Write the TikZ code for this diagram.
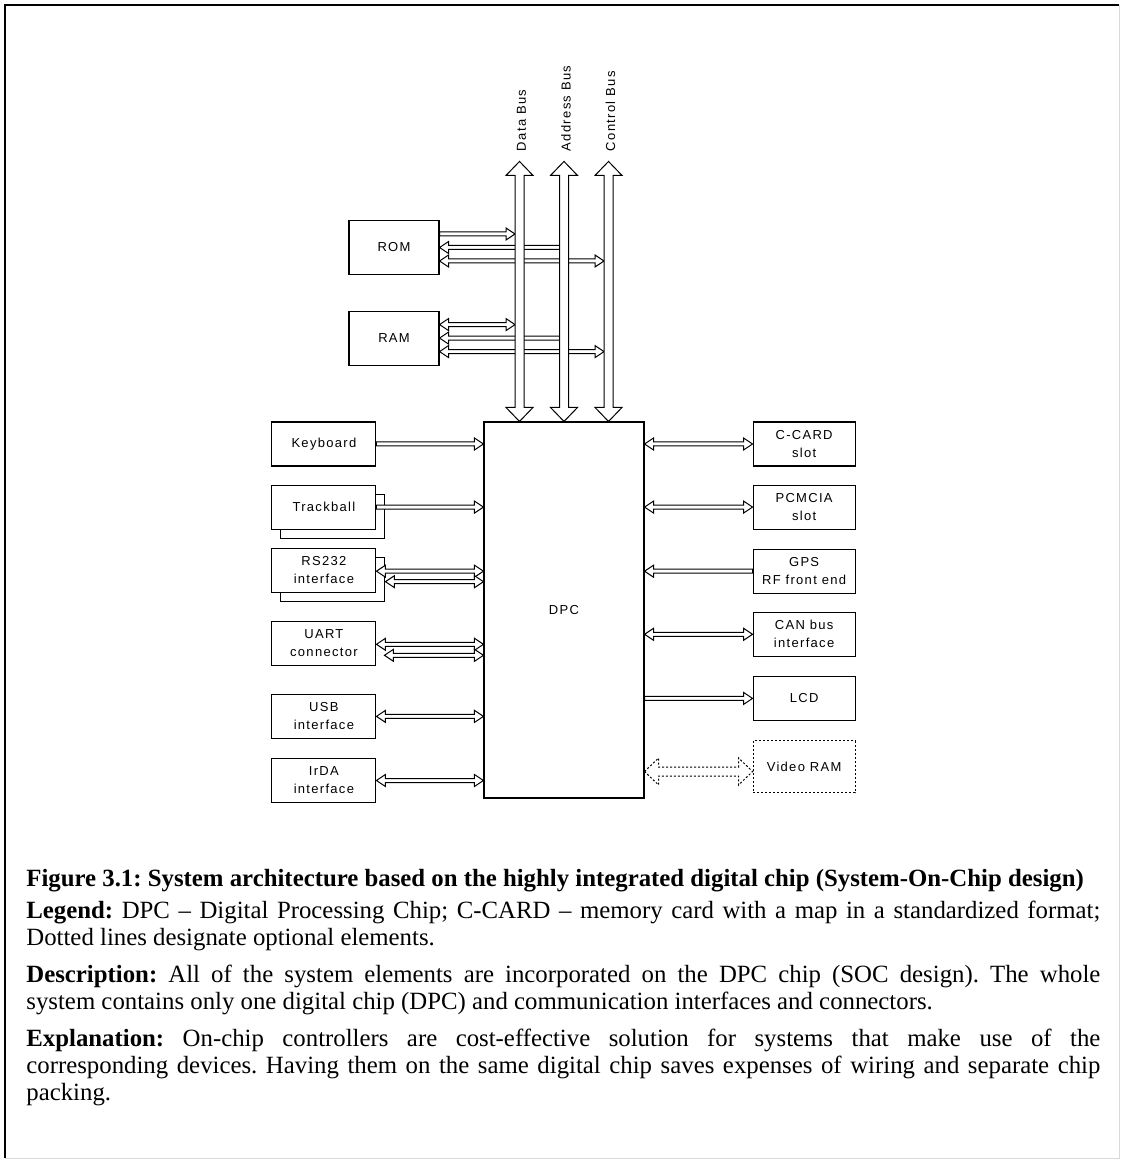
\documentclass[tikz,border=0pt]{standalone}
\usepackage{fontspec}
\setmainfont{Liberation Serif}
\newfontfamily\diafont[LetterSpace=10]{Liberation Sans}
\usetikzlibrary{calc, positioning, shadows}

\begin{document}
\begin{tikzpicture}[x=0.5pt, y=-0.5pt, node distance=9pt and 54pt]
  \tikzset{
    blk/.style={rectangle, draw, line width=0.55pt, fill=white,
      minimum width=52pt, minimum height=22pt, inner sep=0pt,
      align=center, font=\diafont\fontsize{6.5}{9}\selectfont},
    rblk/.style={blk, minimum width=51pt},
    mem/.style={blk, minimum width=45pt, minimum height=27pt},
    stack/.style={copy shadow={shadow xshift=4.5pt, shadow yshift=-4.5pt,
      draw=black, fill=white, line width=0.55pt, opacity=1}},
    opt/.style={dash pattern=on 1pt off 1pt},
    buslbl/.style={rotate=90, anchor=west, inner sep=0pt,
      font=\diafont\fontsize{6.5}{9}\selectfont},
    capt/.style={anchor=base west, inner sep=0pt, text width=537pt,
      align=justify, font=\fontsize{12.4}{13.5}\selectfont\frenchspacing},
    sig/.code={\def\fatS{1pt}\def\fatH{3pt}\def\fatL{4.5pt}},
    bus/.code={\def\fatS{2.25pt}\def\fatH{6.75pt}\def\fatL{7pt}},
    uni/.style={draw, fill=white, line width=0.5pt,
      to path={let \p1=(\tikztostart), \p2=(\tikztotarget),
        \n1={atan2(\y2-\y1,\x2-\x1)} in
        ($(\p1)+(\n1+90:\fatS)$)
        -- ($(\p2)+(\n1+180:\fatL)+(\n1+90:\fatS)$)
        -- ($(\p2)+(\n1+180:\fatL)+(\n1+90:\fatH)$)
        -- (\p2)
        -- ($(\p2)+(\n1+180:\fatL)+(\n1-90:\fatH)$)
        -- ($(\p2)+(\n1+180:\fatL)+(\n1-90:\fatS)$)
        -- ($(\p1)+(\n1-90:\fatS)$) -- cycle}},
    bi/.style={draw, fill=white, line width=0.5pt,
      to path={let \p1=(\tikztostart), \p2=(\tikztotarget),
        \n1={atan2(\y2-\y1,\x2-\x1)} in
        (\p1)
        -- ($(\p1)+(\n1:\fatL)+(\n1+90:\fatH)$)
        -- ($(\p1)+(\n1:\fatL)+(\n1+90:\fatS)$)
        -- ($(\p2)+(\n1+180:\fatL)+(\n1+90:\fatS)$)
        -- ($(\p2)+(\n1+180:\fatL)+(\n1+90:\fatH)$)
        -- (\p2)
        -- ($(\p2)+(\n1+180:\fatL)+(\n1-90:\fatH)$)
        -- ($(\p2)+(\n1+180:\fatL)+(\n1-90:\fatS)$)
        -- ($(\p1)+(\n1:\fatL)+(\n1-90:\fatS)$)
        -- ($(\p1)+(\n1:\fatL)+(\n1-90:\fatH)$) -- cycle}}
  }
  \useasboundingbox (0,0) rectangle (1120,1159);
  % frame
  \draw[line width=1pt] (5,1158) -- (5,5) -- (1119,5);
  \draw[black!15] (1119,5) -- (1119,1158) -- (5,1158);

  % chip and buses
  \node[blk, minimum width=80pt, minimum height=188pt] (dpc) at (564,610) {DPC};
  \coordinate[above=130pt of dpc.north] (atop);
  \coordinate[left=22.25pt of atop] (dtop);
  \coordinate[right=22.25pt of atop] (ctop);
  \node[buslbl] (dlbl) at ([xshift=1pt, yshift=5pt]dtop) {Data Bus};
  \node[buslbl] (albl) at ([xshift=1pt, yshift=5pt]atop) {Address Bus};
  \node[buslbl] (clbl) at ([xshift=1pt, yshift=5pt]ctop) {Control Bus};

  % memories
  \node[mem] (rom) at (394,247.5) {ROM};
  \node[mem, below=17.75pt of rom] (ram) {RAM};

  % left column
  \node[blk, left=53.5pt of dpc.north west, anchor=north east] (kbd) {Keyboard};
  \node[blk, stack, below=of kbd] (trk) {Trackball};
  \node[blk, stack, below=of trk] (rs) {RS232\\interface};
  \node[blk, below=14pt of rs] (uart) {UART\\connector};
  \node[blk, below=14pt of uart] (usb) {USB\\interface};
  \node[blk, below=9.5pt of usb] (irda) {IrDA\\interface};

  % right column
  \node[rblk, right=54pt of dpc.north east, anchor=north west] (ccard) {C-CARD\\slot};
  \node[rblk, below=of ccard] (pcm) {PCMCIA\\slot};
  \node[rblk, below=9.5pt of pcm] (gps) {GPS\\RF front end};
  \node[rblk, below=of gps] (can) {CAN bus\\interface};
  \node[rblk, below=9.5pt of can] (lcd) {LCD};
  \node[rblk, opt, minimum height=26pt, below=9.5pt of lcd] (vram) {Video RAM};

  % memory links
  \draw[uni, sig] ([yshift=6.75pt]rom.east) to ($(rom.east -| dtop)+(-2.25pt,6.75pt)$);
  \draw[uni, sig] ($(rom.east -| atop)+(-2.25pt,0)$) to (rom.east);
  \draw[bi, sig] ([yshift=-6.75pt]rom.east) to ($(rom.east -| ctop)+(-2.25pt,-6.75pt)$);
  \draw[bi, sig] ([yshift=6.75pt]ram.east) to ($(ram.east -| dtop)+(-2.25pt,6.75pt)$);
  \draw[uni, sig] ($(ram.east -| atop)+(-2.25pt,0)$) to (ram.east);
  \draw[bi, sig] ([yshift=-6.75pt]ram.east) to ($(ram.east -| ctop)+(-2.25pt,-6.75pt)$);
  \foreach \b in {dtop, atop, ctop}
    \draw[bi, bus] (\b) to (\b |- dpc.north);

  % left links
  \draw[uni, sig] (kbd.east) to (kbd.east -| dpc.west);
  \draw[uni, sig] (trk.east) to (trk.east -| dpc.west);
  \draw[bi, sig] ([yshift=-0.5pt]rs.east) to ($(rs.east -| dpc.west)+(0,-0.5pt)$);
  \draw[bi, sig] ([xshift=4.5pt, yshift=-5.75pt]rs.east) to ($(rs.east -| dpc.west)+(0,-5.75pt)$);
  \draw[bi, sig] ([yshift=-0.5pt]uart.east) to ($(uart.east -| dpc.west)+(0,-0.5pt)$);
  \draw[bi, sig] ([xshift=4pt, yshift=-6pt]uart.east) to ($(uart.east -| dpc.west)+(0,-6pt)$);
  \draw[bi, sig] (usb.east) to (usb.east -| dpc.west);
  \draw[bi, sig] (irda.east) to (irda.east -| dpc.west);

  % right links
  \draw[bi, sig] (ccard.west -| dpc.east) to (ccard.west);
  \draw[bi, sig] (pcm.west -| dpc.east) to (pcm.west);
  \draw[uni, sig] (gps.west) to (gps.west -| dpc.east);
  \draw[bi, sig] (can.west -| dpc.east) to (can.west);
  \draw[uni, sig] (lcd.west -| dpc.east) to (lcd.west);
  \draw[bi, bus, opt] ($(vram.west -| dpc.east)+(0,-2.5pt)$) to ([yshift=-2.5pt]vram.west);

  % caption
  \node[capt] (fig) at (26,886) {\textbf{Figure 3.1: System architecture based on the highly integrated digital chip (System-On-Chip design)}};
  \node[capt] (leg) at (26,918) {\textbf{Legend:} DPC -- Digital Processing Chip; C-CARD -- memory card with a map in a standardized format;\linebreak Dotted lines designate optional elements.};
  \node[capt] (desc) at (26,982) {\textbf{Description:} All of the system elements are incorporated on the DPC chip (SOC design). The whole\linebreak system contains only one digital chip (DPC) and communication interfaces and connectors.};
  \node[capt] (expl) at (26,1046) {\textbf{Explanation:} On-chip controllers are cost-effective solution for systems that make use of the\linebreak corresponding devices. Having them on the same digital chip saves expenses of wiring and separate chip\linebreak packing.};
\end{tikzpicture}
\end{document}
